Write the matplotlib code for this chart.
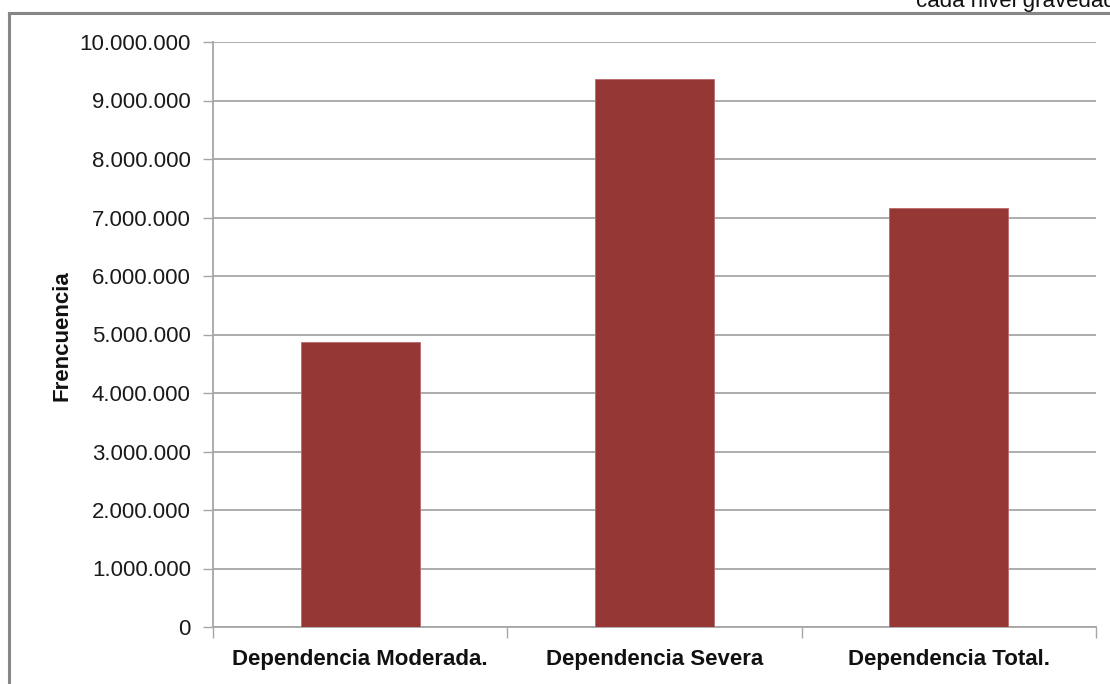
import matplotlib
matplotlib.use("Agg")
import matplotlib.pyplot as plt
from matplotlib.lines import Line2D
from matplotlib.ticker import FuncFormatter, FixedLocator, NullFormatter
from matplotlib import font_manager

categories = ["Dependencia Moderada.", "Dependencia Severa", "Dependencia Total."]
values = [4880000, 9360000, 7160000]
y_ticks = list(range(0, 10000001, 1000000))

names = {f.name for f in font_manager.fontManager.ttflist}
narrow = "Liberation Sans Narrow" if "Liberation Sans Narrow" in names else "Liberation Sans"
plt.rcParams["font.family"] = ["Liberation Sans", "DejaVu Sans"]

W, H = 1110, 684
fig = plt.figure(figsize=(W / 100, H / 100), dpi=100)
ax = fig.add_axes([213 / W, 1 - 627 / H, (1096 - 213) / W, (627 - 42) / H])

x = list(range(len(categories)))
ax.bar(x, values, width=0.405, color="#953735", edgecolor="#b86a68", linewidth=0.6, zorder=3)

ax.set_xlim(-0.5, len(categories) - 0.5)
ax.set_ylim(0, 10000000)
ax.set_yticks(y_ticks)
ax.yaxis.set_major_formatter(FuncFormatter(lambda v, p: f"{int(v):,}".replace(",", ".")))
ax.grid(axis="y", color="#a6a6a6", linewidth=1.3, zorder=0)

# category labels centred, tick marks at category boundaries
ax.xaxis.set_major_locator(FixedLocator([-0.5, 0.5, 1.5, 2.5]))
ax.xaxis.set_major_formatter(NullFormatter())
ax.tick_params(axis="x", length=8, width=1.0, color="#a6a6a6", direction="out")
ax.tick_params(axis="y", length=7, width=1.0, color="#a6a6a6", labelsize=16, pad=9,
               labelcolor="#1a1a1a")
for i, c in enumerate(categories):
    ax.text(i, -0.055, c, transform=ax.get_xaxis_transform(), ha="center", va="center",
            fontsize=16, fontweight="bold", family=[narrow, "DejaVu Sans"], color="#111111")

for s in ["top", "right"]:
    ax.spines[s].set_visible(False)
for s in ["left", "bottom"]:
    ax.spines[s].set_color("#a6a6a6")
    ax.spines[s].set_linewidth(1.3)

fig.text(62 / W, 1 - 336 / H, "Frencuencia", rotation=90, ha="center", va="center",
         fontsize=16, fontweight="bold", family=[narrow, "DejaVu Sans"], color="#111111")

# outer chart frame
fig.add_artist(Line2D([9 / W, 1.01], [1 - 13 / H, 1 - 13 / H], transform=fig.transFigure,
                      color="#878787", linewidth=2.2))
fig.add_artist(Line2D([9 / W, 9 / W], [1 - 13 / H, -0.01], transform=fig.transFigure,
                      color="#878787", linewidth=2.2))

fig.text(916 / W, 1 - 2 / H, "cada nivel gravedad", ha="left", va="center",
         fontsize=16, color="#111111")

fig.savefig("out.png", dpi=100)
